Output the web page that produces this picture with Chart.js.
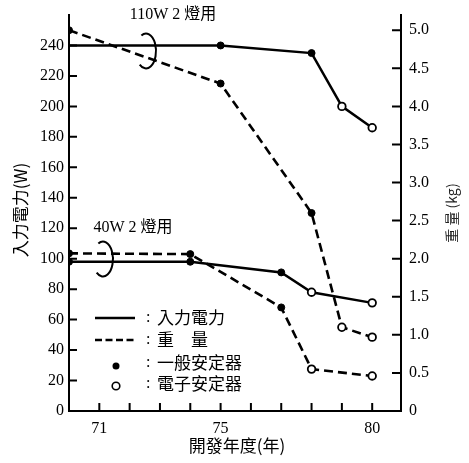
<!DOCTYPE html>
<html>
<head>
<meta charset="utf-8">
<script src="https://cdn.jsdelivr.net/npm/chart.js@4.4.1/dist/chart.umd.min.js"></script>
<style>
  html, body { margin: 0; padding: 0; background: #fff; }
</style>
</head>
<body>
<canvas id="chart" width="469" height="463"></canvas>
<script>
// 開發年度 (年)
const years110 = [70, 75, 78, 79, 80];
const years40 = [70, 74, 77, 78, 80];
// 入力電力 (W)
const power110 = [240, 240, 235, 200, 186];
const power40 = [98, 98, 91, 78, 71];
// 重量 (kg)
const weight110 = [5.0, 4.3, 2.6, 1.1, 0.97];
const weight40 = [2.07, 2.06, 1.36, 0.55, 0.46];
// 1 = 一般安定器, 0 = 電子安定器, null = 無記號
const kind110Power = [null, 1, 1, 0, 0];
const kind110Weight = [1, 1, 1, 0, 0];
const kind40Power = [1, 1, 1, 0, 0];
const kind40Weight = [1, 1, 1, 0, 0];

// 軸目盛
const xTicks = [71, 72, 73, 74, 75, 76, 77, 78, 79, 80];
const xLabels = [71, 75, 80];
const powerTicks = [0, 20, 40, 60, 80, 100, 120, 140, 160, 180, 200, 220, 240];
const weightTicks = [0, 0.5, 1.0, 1.5, 2.0, 2.5, 3.0, 3.5, 4.0, 4.5, 5.0];

const legendRows = ["入力電力", "重　量", "一般安定器", "電子安定器"];

const SERIF = "'Liberation Serif', 'Noto Sans CJK TC', serif";
const CJK = "'Noto Sans CJK TC', 'Noto Sans CJK JP', sans-serif";

function toPoints(xs, ys) {
  return xs.map((x, i) => ({ x: x, y: ys[i] }));
}

function markStyle(kinds) {
  return {
    pointRadius: kinds.map((k) => (k === null ? 0 : k ? 3.5 : 3.8)),
    pointBackgroundColor: kinds.map((k) => (k === 0 ? "#fff" : "#000")),
    pointBorderColor: "#000",
    pointBorderWidth: kinds.map((k) => (k === 0 ? 1.8 : 1)),
  };
}

// 內向きの目盛線
const inwardTicks = {
  id: "inwardTicks",
  afterDraw(chart) {
    const { ctx, chartArea: a } = chart;
    const { x, y, y2 } = chart.scales;
    ctx.save();
    ctx.strokeStyle = "#000";
    ctx.lineWidth = 2;
    ctx.beginPath();
    xTicks.forEach((v) => {
      const px = x.getPixelForValue(v);
      ctx.moveTo(px, a.bottom);
      ctx.lineTo(px, a.bottom - 8);
    });
    powerTicks.forEach((v) => {
      if (v === 0) return;
      const py = y.getPixelForValue(v);
      ctx.moveTo(a.left, py);
      ctx.lineTo(a.left + 8, py);
    });
    weightTicks.forEach((v) => {
      if (v === 0) return;
      const py = y2.getPixelForValue(v);
      ctx.moveTo(a.right, py);
      ctx.lineTo(a.right - 9, py);
    });
    ctx.stroke();
    ctx.restore();
  },
};

// 註記・凡例・軸タイトル
const notes = {
  id: "notes",
  afterDraw(chart) {
    const { ctx } = chart;
    const { x, y } = chart.scales;
    ctx.save();
    ctx.fillStyle = "#000";
    ctx.strokeStyle = "#000";
    ctx.textAlign = "center";
    ctx.textBaseline = "middle";

    // 群ラベル
    ctx.font = "16px " + SERIF;
    ctx.fillText("110W 2 燈用", x.getPixelForValue(73.43), y.getPixelForValue(260));
    ctx.fillText("40W 2 燈用", x.getPixelForValue(72.11), y.getPixelForValue(120));

    // 括り記號
    ctx.lineWidth = 2;
    [[72.54, 236.4], [71.12, 99.8]].forEach(([yr, w]) => {
      ctx.beginPath();
      ctx.ellipse(x.getPixelForValue(yr), y.getPixelForValue(w), 10, 17.5, 0, -2.05, 2.25);
      ctx.stroke();
    });

    // 凡例
    const rowY = [318, 340, 363, 384];
    ctx.lineWidth = 2.5;
    ctx.beginPath();
    ctx.moveTo(95, rowY[0]);
    ctx.lineTo(135, rowY[0]);
    ctx.stroke();
    ctx.setLineDash([7, 3.5]);
    ctx.beginPath();
    ctx.moveTo(95, rowY[1]);
    ctx.lineTo(135, rowY[1]);
    ctx.stroke();
    ctx.setLineDash([]);
    ctx.beginPath();
    ctx.arc(116, rowY[2] + 3, 3.5, 0, Math.PI * 2);
    ctx.fill();
    ctx.lineWidth = 1.6;
    ctx.beginPath();
    ctx.arc(116, rowY[3] + 2, 3.8, 0, Math.PI * 2);
    ctx.stroke();

    ctx.textAlign = "left";
    legendRows.forEach((label, i) => {
      ctx.font = "16px " + SERIF;
      ctx.fillText(":", 146, rowY[i]);
      ctx.font = "17px " + CJK;
      ctx.fillText(label, 157, rowY[i]);
    });

    // 軸タイトル
    ctx.textAlign = "center";
    ctx.font = "17px " + CJK;
    ctx.fillText("開發年度(年)", 237, 446);

    ctx.save();
    ctx.translate(21, 210);
    ctx.rotate(-Math.PI / 2);
    ctx.fillText("入力電力(W)", 0, 0);
    ctx.restore();

    ctx.save();
    ctx.font = "14px " + CJK;
    ctx.fillStyle = "#222";
    ctx.translate(452, 213);
    ctx.rotate(-Math.PI / 2);
    ctx.fillText("重 量 (kg)", 0, 0);
    ctx.restore();

    ctx.restore();
  },
};

const solid = { borderColor: "#000", borderWidth: 2.5, fill: false, tension: 0 };
const dashed = { borderColor: "#000", borderWidth: 2.6, borderDash: [9, 5], fill: false, tension: 0 };

new Chart(document.getElementById("chart"), {
  type: "line",
  data: {
    datasets: [
      Object.assign({ label: "110W 入力電力", yAxisID: "y", data: toPoints(years110, power110) }, solid, markStyle(kind110Power)),
      Object.assign({ label: "40W 入力電力", yAxisID: "y", data: toPoints(years40, power40) }, solid, markStyle(kind40Power)),
      Object.assign({ label: "110W 重量", yAxisID: "y2", data: toPoints(years110, weight110) }, dashed, markStyle(kind110Weight)),
      Object.assign({ label: "40W 重量", yAxisID: "y2", data: toPoints(years40, weight40) }, dashed, markStyle(kind40Weight)),
    ],
  },
  options: {
    responsive: false,
    devicePixelRatio: 1,
    animation: false,
    layout: { padding: { top: 15, left: 0, right: 0, bottom: 0 } },
    plugins: { legend: { display: false }, tooltip: { enabled: false } },
    scales: {
      x: {
        type: "linear",
        min: 70,
        max: 80.95,
        grid: { display: false, drawTicks: false },
        border: { display: true, color: "#000", width: 2 },
        afterBuildTicks: (s) => { s.ticks = xTicks.map((v) => ({ value: v })); },
        afterFit: (s) => { s.height = 52; s.paddingLeft = 0; s.paddingRight = 0; },
        ticks: {
          color: "#000",
          padding: 8,
          autoSkip: false,
          maxRotation: 0,
          font: { family: SERIF, size: 16 },
          callback: (v) => (xLabels.includes(v) ? String(v) : ""),
        },
      },
      y: {
        position: "left",
        min: 0,
        max: 260,
        grid: { display: false, drawTicks: false },
        border: { display: true, color: "#000", width: 2 },
        afterBuildTicks: (s) => { s.ticks = powerTicks.map((v) => ({ value: v })); },
        afterFit: (s) => { s.width = 69; s.paddingTop = 0; s.paddingBottom = 0; },
        ticks: { color: "#000", padding: 5, font: { family: SERIF, size: 16 } },
      },
      y2: {
        position: "right",
        min: 0,
        max: 5.2,
        grid: { display: false, drawTicks: false },
        border: { display: true, color: "#000", width: 2 },
        afterBuildTicks: (s) => { s.ticks = weightTicks.map((v) => ({ value: v })); },
        afterFit: (s) => { s.width = 68; s.paddingTop = 0; s.paddingBottom = 0; },
        ticks: {
          color: "#000",
          padding: 8,
          font: { family: SERIF, size: 16 },
          callback: (v) => (v === 0 ? "0" : v.toFixed(1)),
        },
      },
    },
  },
  plugins: [inwardTicks, notes],
});
</script>
</body>
</html>
